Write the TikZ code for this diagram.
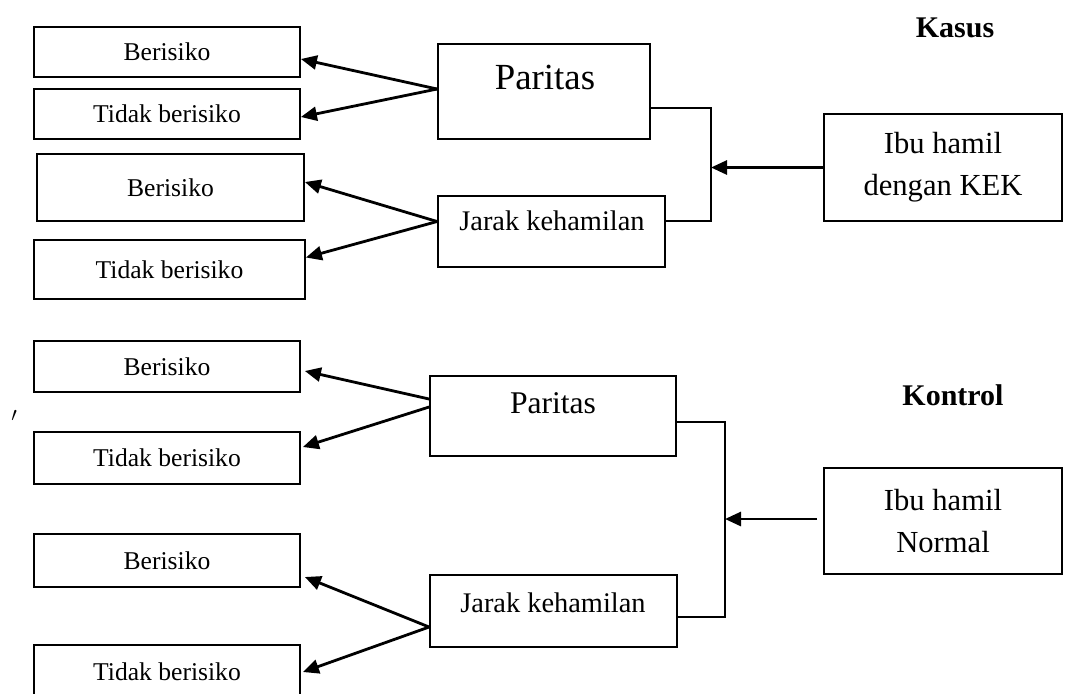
\documentclass[tikz,border=0pt]{standalone}
\usepackage{fontspec}
\setmainfont{Liberation Serif}
\usetikzlibrary{arrows.meta,positioning}

\begin{document}
\begin{tikzpicture}[x=0.5pt,y=-0.5pt,
    box/.style={draw, line width=0.9pt, rectangle, inner sep=0pt},
    opt/.style={box, minimum width=133pt, font=\fontsize{12.8}{15}\selectfont},
    arr/.style={-{Triangle[length=8pt,width=7pt]}, line width=1.4pt},
    link/.style={line width=0.8pt}]
    \useasboundingbox (0,0) rectangle (1081,693);
    % kasus
    \node[font=\bfseries\fontsize{15}{18}\selectfont] (kasus) at (955,28) {Kasus};
    \node[box, minimum width=119pt, minimum height=53.5pt, align=center, font=\fontsize{15.3}{21}\selectfont] (ibu1) at (943,167.5) {Ibu hamil\\dengan KEK};
    \node[box, minimum width=106pt, minimum height=47.5pt] (par1) at (544,91.5) {};
    \node[font=\fontsize{18.4}{20}\selectfont] (par1txt) at (545,77) {Paritas};
    \node[box, minimum width=113.5pt, minimum height=35.5pt] (jar1) at (551.5,231.5) {};
    \node[font=\fontsize{14.2}{17}\selectfont] (jar1txt) at (552,221) {Jarak kehamilan};
    \node[opt, minimum height=25pt] (b1) at (167,52) {Berisiko};
    \node[opt, minimum height=25pt] (t1) at (167,114) {Tidak berisiko};
    \node[opt, minimum width=133.5pt, minimum height=33.5pt] (b2) at (170.5,187.5) {Berisiko};
    \node[opt, minimum width=135.5pt, minimum height=29.5pt] (t2) at (169.5,269.5) {Tidak berisiko};
    \coordinate (join1) at (711,167.5);
    \draw[link] ([yshift=-8.25pt]par1.east) -| (join1) |- ([yshift=5.25pt]jar1.east);
    \draw[arr] (ibu1.west) -- (join1);
    \draw[arr] ([yshift=1.25pt]par1.west) -- ([yshift=-3.5pt]b1.east);
    \draw[arr] ([yshift=1.25pt]par1.west) -- ([yshift=-1.5pt]t1.east);
    \draw[arr] ([yshift=5pt]jar1.west) -- ([yshift=2.75pt]b2.east);
    \draw[arr] ([yshift=5pt]jar1.west) -- ([yshift=6pt]t2.east);
    % kontrol
    \node[font=\bfseries\fontsize{15}{18}\selectfont] (kontrol) at (953,395) {Kontrol};
    \node[box, minimum width=119pt, minimum height=53pt, align=center, font=\fontsize{15.3}{21}\selectfont] (ibu2) at (943,521) {Ibu hamil\\Normal};
    \node[box, minimum width=123pt, minimum height=40pt] (par2) at (553,416) {};
    \node[font=\fontsize{15.8}{18}\selectfont] (par2txt) at (553,403) {Paritas};
    \node[box, minimum width=123.5pt, minimum height=36pt] (jar2) at (553.5,611) {};
    \node[font=\fontsize{14.2}{17}\selectfont] (jar2txt) at (553,603) {Jarak kehamilan};
    \node[opt, minimum height=25.5pt] (b3) at (167,366.5) {Berisiko};
    \node[opt, minimum height=26pt] (t3) at (167,458) {Tidak berisiko};
    \node[opt, minimum height=26.5pt] (b4) at (167,560.5) {Berisiko};
    \node[opt, minimum height=27pt] (t4) at (167,672) {Tidak berisiko};
    \node[font=\fontsize{10}{12}\selectfont] (mark) at (14,416) {$\prime$};
    \coordinate (join2) at (725,519);
    \draw[link] ([yshift=-3pt]par2.east) -| (join2) |- ([yshift=-3pt]jar2.east);
    \draw[arr] ([xshift=-3pt,yshift=1pt]ibu2.west) -- (join2);
    \draw[arr] ([yshift=8.5pt]par2.west) -- ([xshift=2pt,yshift=-2.25pt]b3.east);
    \draw[arr] ([yshift=4.5pt]par2.west) -- ([xshift=1pt,yshift=5.5pt]t3.east);
    \draw[arr] ([yshift=-8pt]jar2.west) -- ([xshift=2pt,yshift=-8.25pt]b4.east);
    \draw[arr] ([yshift=-8pt]jar2.west) -- ([xshift=1pt]t4.east);
\end{tikzpicture}
\end{document}
